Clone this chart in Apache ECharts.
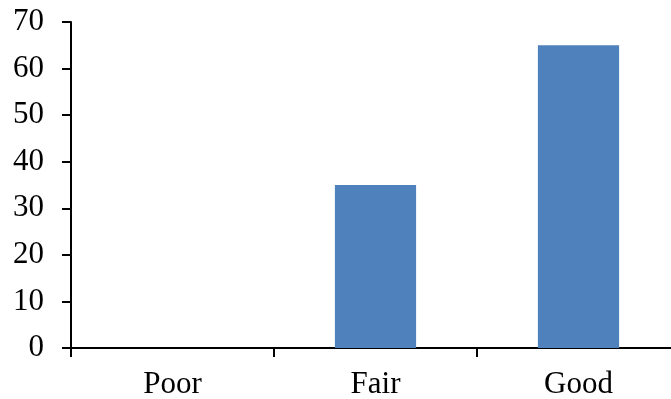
<!DOCTYPE html>
<html>
<head>
<meta charset="utf-8">
<script src="https://cdn.jsdelivr.net/npm/echarts@6/dist/echarts.min.js"></script>
<style>
  html, body { margin: 0; padding: 0; background: #fff; }
  #chart { width: 671px; height: 399px; }
</style>
</head>
<body>
<div id="chart"></div>
<script>
// Rating categories and the share of responses in each
const categories = ['Poor', 'Fair', 'Good'];
const values = [0, 35, 65];
const yTicks = { min: 0, max: 70, interval: 10 };

const font = '"Liberation Serif", "Times New Roman", serif';
const chart = echarts.init(document.getElementById('chart'), null, { renderer: 'canvas' });
chart.setOption({
  animation: false,
  // plot area runs slightly past the right edge, so the last category boundary is clipped
  grid: { left: 71, right: -9, top: 22, bottom: 51, containLabel: false, outerBoundsMode: 'none' },
  xAxis: {
    type: 'category',
    data: categories,
    axisLine: { lineStyle: { color: '#000', width: 2 } },
    axisTick: { show: true, length: 9, lineStyle: { color: '#000', width: 2 } },
    axisLabel: { color: '#000', fontFamily: font, fontSize: 31, margin: 21 },
    splitLine: { show: false }
  },
  yAxis: {
    type: 'value',
    min: yTicks.min,
    max: yTicks.max,
    interval: yTicks.interval,
    axisLine: { show: true, lineStyle: { color: '#000', width: 2 } },
    axisTick: { show: true, length: 9, lineStyle: { color: '#000', width: 2 } },
    axisLabel: { color: '#000', fontFamily: font, fontSize: 31, margin: 27 },
    splitLine: { show: false }
  },
  series: [{
    type: 'bar',
    data: values,
    barWidth: '40%',
    itemStyle: { color: '#4F81BD' }
  }]
});
</script>
</body>
</html>
